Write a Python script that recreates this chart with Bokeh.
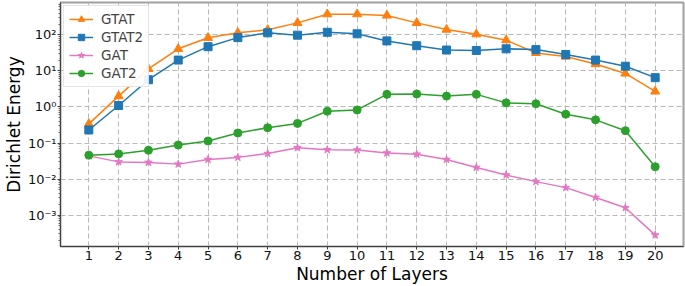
from bokeh.plotting import figure
from bokeh.models import (Range1d, FixedTicker, CustomJSTickFormatter, Legend, LegendItem)
from bokeh.embed import file_html
from bokeh.resources import INLINE

layers = list(range(1, 21))
gtat = [0.34, 2.0, 11.4, 41, 83, 114, 138, 215, 375, 375, 344, 215, 140, 104, 71, 31.6, 25, 15.5, 8.5, 2.7]
gtat2 = [0.23, 1.1, 5.7, 20, 47, 84, 114, 98, 118, 107, 68, 50, 38, 37, 41, 39, 28.5, 20, 13.5, 6.5]
gat = [0.044, 0.030, 0.029, 0.026, 0.035, 0.040, 0.051, 0.074, 0.065, 0.064, 0.053, 0.049, 0.035,
       0.021, 0.013, 0.0085, 0.0058, 0.0031, 0.0016, 0.00028]
gat2 = [0.046, 0.050, 0.063, 0.088, 0.114, 0.19, 0.266, 0.35, 0.76, 0.83, 2.24, 2.3, 2.0, 2.24,
        1.3, 1.23, 0.63, 0.44, 0.22, 0.022]
y_ticks = [1e-3, 1e-2, 1e-1, 1e0, 1e1, 1e2]
y_minor = [m * 10.0 ** e for e in range(-4, 3) for m in range(2, 10)]

FONT = "DejaVu Sans"

p = figure(width=685, height=286, y_axis_type="log", output_backend="svg",
           toolbar_location=None, x_range=Range1d(0.05, 20.95),
           y_range=Range1d(1.35e-4, 790),
           min_border_left=58, min_border_right=2, min_border_top=2, min_border_bottom=5)
p.background_fill_color = "white"
p.border_fill_color = "white"
p.outline_line_color = "#a0a0a0"
p.outline_line_width = 2

series = [
    ("GTAT", gtat, "#ff7f0e", "triangle", 9),
    ("GTAT2", gtat2, "#1f77b4", "square", 8),
    ("GAT", gat, "#e377c2", "star", 8),
    ("GAT2", gat2, "#2ca02c", "circle", 8),
]
items = []
for name, vals, color, marker, size in series:
    l = p.line(layers, vals, line_color=color, line_width=1.5)
    s = p.scatter(layers, vals, marker=marker, size=size, fill_color=color, line_color=color)
    items.append(LegendItem(label=name, renderers=[l, s]))

legend = Legend(items=items, location="top_left", label_text_font=FONT,
                label_text_font_size="13.5px", label_height=16, glyph_height=16,
                glyph_width=24, label_standoff=8, spacing=2, padding=5, margin=3,
                border_line_color="#cccccc", border_line_width=1,
                background_fill_alpha=0.9)
p.add_layout(legend)

p.xaxis.ticker = FixedTicker(ticks=layers)
p.yaxis.ticker = FixedTicker(ticks=y_ticks, minor_ticks=y_minor)
p.yaxis.formatter = CustomJSTickFormatter(code="""
const e = Math.round(Math.log10(tick));
const sup = {"-": "\u207b", "0": "\u2070", "1": "\u00b9", "2": "\u00b2", "3": "\u00b3",
             "4": "\u2074", "5": "\u2075", "6": "\u2076", "7": "\u2077", "8": "\u2078", "9": "\u2079"};
return "10" + String(e).split("").map(c => sup[c]).join("");
""")

p.xaxis.axis_label = "Number of Layers"
p.yaxis.axis_label = "Dirichlet Energy"
for ax in (p.xaxis, p.yaxis):
    ax.axis_label_text_font = FONT
    ax.axis_label_text_font_size = "17px"
    ax.axis_label_text_font_style = "normal"
    ax.axis_label_text_color = "black"
    ax.major_label_text_font = FONT
    ax.major_label_text_font_size = "13px"
    ax.major_label_text_color = "#111111"
    ax.axis_line_color = "#404040"
    ax.axis_line_width = 1
    ax.major_tick_line_color = "#404040"
    ax.major_tick_out = 3
    ax.major_tick_in = 0
    ax.major_label_standoff = 1
    ax.axis_label_standoff = 1
p.xaxis.minor_tick_line_color = None
p.yaxis.minor_tick_line_color = "#606060"
p.yaxis.minor_tick_out = 2
p.yaxis.minor_tick_in = 0

p.xgrid.ticker = FixedTicker(ticks=layers)
p.ygrid.ticker = FixedTicker(ticks=y_ticks)
for g in (p.xgrid, p.ygrid):
    g.grid_line_color = "#b8b8b8"
    g.grid_line_dash = "5 3"
    g.grid_line_width = 1

open("out.html", "w").write(file_html(p, INLINE))
